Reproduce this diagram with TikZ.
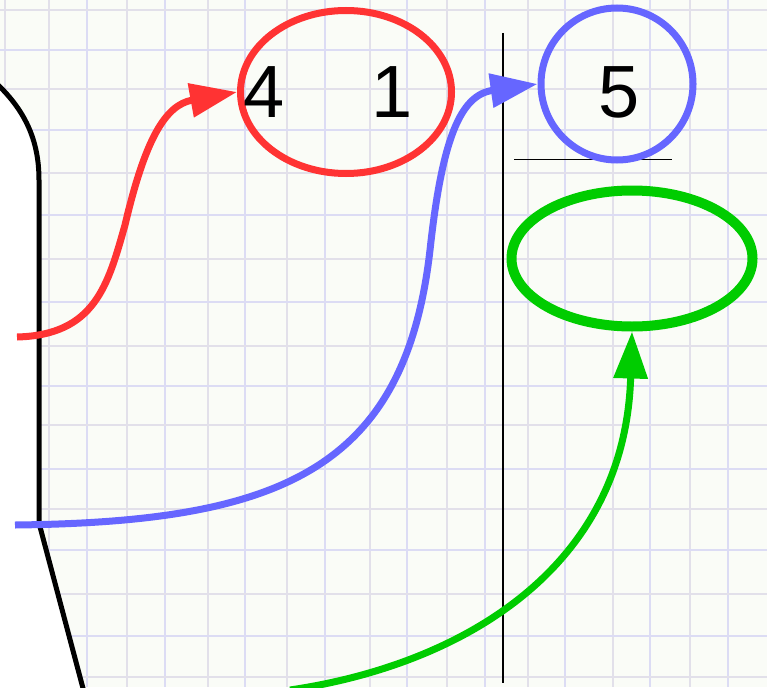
\documentclass[tikz,border=0pt]{standalone}
\usepackage{fontspec}
\setmainfont{Liberation Sans}
\usetikzlibrary{arrows.meta,shapes.geometric}
\definecolor{paper}{HTML}{FAFCF7}
\definecolor{gridthick}{HTML}{DCDCF4}
\definecolor{gridthin}{HTML}{E2E0EA}
\definecolor{myred}{HTML}{FF3333}
\definecolor{myblue}{HTML}{6666FF}
\definecolor{mygreen}{HTML}{00CC00}
\tikzset{
  gridA/.style={gridthick, line width=2.6pt},
  gridB/.style={gridthin, line width=1.8pt},
  digit/.style={font=\fontsize{74}{74}\selectfont, inner sep=0pt, text=black},
  redring/.style={ellipse, draw=myred, line width=7pt, minimum width=211pt, minimum height=163pt, inner sep=0pt},
  bluering/.style={circle, draw=myblue, line width=7pt, minimum size=152pt, inner sep=0pt},
  greenring/.style={ellipse, draw=mygreen, line width=10pt, minimum width=241pt, minimum height=136pt, inner sep=0pt},
  connector/.style={line width=7pt, -{Triangle[length=47pt,width=33pt]}},
  thinrule/.style={black, line width=1.6pt},
}
\begin{document}
\begin{tikzpicture}[x=1pt,y=-1pt]
\useasboundingbox (0,0) rectangle (767,687);
\clip (0,0) rectangle (767,687);
\fill[paper] (0,0) rectangle (767,687);
% grid
\foreach \x in {87,165,245,325,407,485,565,650,728} \draw[gridA] (\x,0) -- (\x,687);
\foreach \x in {5,49,127,208,287,370,447,528,613,690} \draw[gridB] (\x,0) -- (\x,687);
\foreach \y in {50,130,215,302,386,469,550,636} \draw[gridA] (0,\y) -- (767,\y);
\foreach \y in {10,89,173,259,346,425,509,594,677} \draw[gridB] (0,\y) -- (767,\y);
% white region and black outline
\fill[white] (-5,82) .. controls (25,110) and (39,140) .. (39,180) -- (39,523) -- (84,692) -- (-5,692) -- cycle;
\draw[black, line width=5pt] (-5,82) .. controls (25,110) and (39,140) .. (39,180) -- (39,523) -- (84,692);
% thin rules
\coordinate (vt) at (503,33);
\coordinate (vb) at (503,683);
\draw[thinrule] (vt) -- (vb);
\coordinate (hl) at (514,159.5);
\coordinate (hr) at (672,159.5);
\draw[thinrule] (hl) -- (hr);
% rings
\node[redring] (e41) at (346,92) {};
\node[digit] (n4) at (264,92) {4};
\node[digit] (n1) at (392,92) {1};
\node[bluering] (c5) at (617,84) {};
\node[digit] (n5) at (619,92) {5};
\node[greenring] (g) at (632,258.5) {};
% connectors
\coordinate (rs) at (17,337);
\coordinate (bs) at (15,525);
\coordinate (gs) at (290,690);
\draw[connector, myred] (rs) .. controls (95,335) and (108,285) .. (125,225) .. controls (145,140) and (165,105) .. (e41.west);
\draw[connector, myblue] (bs) .. controls (280,522) and (405,470) .. (430,250) .. controls (442,140) and (460,95) .. (c5.west);
\draw[connector, mygreen] (gs) .. controls (460,665) and (625,570) .. (g.south);
\end{tikzpicture}
\end{document}
